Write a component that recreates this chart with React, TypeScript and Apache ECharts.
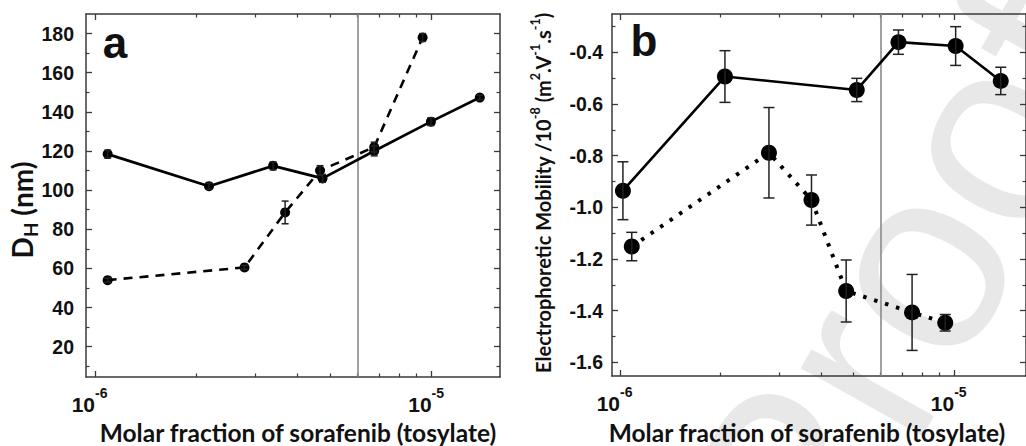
import React, { useEffect, useRef } from 'react';
import * as echarts from 'echarts';

// ---------- data ----------
const xMajorTicks = [1e-6, 1e-5];
const xMinorTicks = [2e-6, 3e-6, 4e-6, 5e-6, 6e-6, 7e-6, 8e-6, 9e-6];
const cmcLine = [6e-6];

const xRangeA = [0.94e-6, 1.596e-5];
const xRangeB = [0.946e-6, 1.64e-5];

const yRangeA = [4.5, 190];
const yMajorA = [20, 40, 60, 80, 100, 120, 140, 160, 180];
const yMinorA = [10, 30, 50, 70, 90, 110, 130, 150, 170];

const yRangeB = [-1.653, -0.252];
const yMajorB = [-1.6, -1.4, -1.2, -1.0, -0.8, -0.6, -0.4];
const yMinorB = [-1.5, -1.3, -1.1, -0.9, -0.7, -0.5, -0.3];

// panel a : hydrodynamic diameter (nm)
const solidA_x = [1.09e-6, 2.18e-6, 3.38e-6, 4.74e-6, 6.75e-6, 9.95e-6, 1.39e-5];
const solidA_y = [118.4, 102, 112.4, 106, 120, 135, 147.3];
const solidA_err = [2, 1.5, 2, 2, 2.5, 2, 1.2];

const dashA_x = [1.09e-6, 2.78e-6, 3.67e-6, 4.66e-6, 6.75e-6, 9.4e-6];
const dashA_y = [54, 60.5, 88.6, 110, 122, 178];
const dashA_err = [1, 1, 5.8, 2.5, 2.5, 2];

// panel b : electrophoretic mobility
const solidB_x = [1.02e-6, 2.06e-6, 5.11e-6, 6.81e-6, 1.01e-5, 1.378e-5];
const solidB_y = [-0.936, -0.494, -0.546, -0.361, -0.376, -0.511];
const solidB_err = [0.112, 0.1, 0.045, 0.047, 0.075, 0.053];

const dotB_x = [1.084e-6, 2.79e-6, 3.74e-6, 4.75e-6, 7.48e-6, 9.4e-6];
const dotB_y = [-1.152, -0.789, -0.972, -1.324, -1.407, -1.447];
const dotB_err = [0.055, 0.175, 0.097, 0.12, 0.147, 0.032];

// watermark letters
const watermarkLetters = ['P', 'r', 'o', 'o', 'f'];

// ---------- styling ----------
const FRAME = '#3a3a3a';
const TICK_FONT = 'Liberation Sans';
const TITLE_FONT = 'Lato';
const L = (v: number) => Math.log10(v);

function xAxes(grid: number, range: number[]) {
  const base: any = {
    type: 'value',
    gridIndex: grid,
    min: L(range[0]),
    max: L(range[1]),
    splitLine: { show: false },
    axisLabel: { show: false },
    axisTick: { show: false },
    axisLine: { show: false, onZero: false },
  };
  const line = { show: true, onZero: false, lineStyle: { color: FRAME, width: 1.5 } };
  const major = { show: true, inside: true, length: 6, customValues: xMajorTicks.map(L), lineStyle: { color: FRAME, width: 1.3 } };
  const minor = { show: true, inside: true, length: 3.5, customValues: xMinorTicks.map(L), lineStyle: { color: FRAME, width: 1.2 } };
  return [
    {
      ...base,
      position: 'bottom',
      axisLine: line,
      axisTick: major,
      axisLabel: {
        show: true,
        customValues: xMajorTicks.map(L),
        margin: 9,
        padding: [0, 11, 0, 0],
        fontFamily: TICK_FONT,
        fontWeight: 'bold',
        fontSize: 21,
        color: '#111',
        formatter: (v: number) => `{b|10}{s|${Math.round(v)}}`,
        rich: {
          b: { fontFamily: TICK_FONT, fontWeight: 'bold', fontSize: 21, color: '#111', lineHeight: 36, verticalAlign: 'middle' },
          s: { fontFamily: TICK_FONT, fontWeight: 'bold', fontSize: 14, color: '#111', lineHeight: 12, verticalAlign: 'top' },
        },
      },
    },
    { ...base, position: 'bottom', axisTick: minor },
    { ...base, position: 'top', axisLine: line, axisTick: major },
    { ...base, position: 'top', axisTick: minor },
  ];
}

function yAxes(grid: number, range: number[], majors: number[], minors: number[], fmt: (v: number) => string, margin: number) {
  const base: any = {
    type: 'value',
    gridIndex: grid,
    min: range[0],
    max: range[1],
    splitLine: { show: false },
    axisLabel: { show: false },
    axisTick: { show: false },
    axisLine: { show: false, onZero: false },
  };
  const line = { show: true, onZero: false, lineStyle: { color: FRAME, width: 1.5 } };
  const major = { show: true, inside: true, length: 6, customValues: majors, lineStyle: { color: FRAME, width: 1.3 } };
  const minor = { show: true, inside: true, length: 3.5, customValues: minors, lineStyle: { color: FRAME, width: 1.2 } };
  return [
    {
      ...base,
      position: 'left',
      axisLine: line,
      axisTick: major,
      axisLabel: {
        show: true,
        customValues: majors,
        margin,
        formatter: fmt,
        fontFamily: TICK_FONT,
        fontWeight: 'bold',
        fontSize: 19.5,
        color: '#111',
      },
    },
    { ...base, position: 'left', axisTick: minor },
    { ...base, position: 'right', axisLine: line, axisTick: major },
    { ...base, position: 'right', axisTick: minor },
  ];
}

function pts(xs: number[], ys: number[]) {
  return xs.map((x, i) => [L(x), ys[i]]);
}
function errPts(xs: number[], ys: number[], es: number[]) {
  return xs.map((x, i) => [L(x), ys[i], es[i]]);
}

function lineSeries(grid: number, xs: number[], ys: number[], dash: any, width: number, size: number, extra: any = {}) {
  return {
    type: 'line',
    xAxisIndex: grid * 4,
    yAxisIndex: grid * 4,
    data: pts(xs, ys),
    symbol: 'circle',
    symbolSize: size,
    showSymbol: true,
    itemStyle: { color: '#000' },
    lineStyle: { color: '#000', width, type: dash, cap: 'butt' },
    z: 3,
    ...extra,
  };
}

function errSeries(grid: number, xs: number[], ys: number[], es: number[], capW: number) {
  return {
    type: 'custom',
    xAxisIndex: grid * 4,
    yAxisIndex: grid * 4,
    data: errPts(xs, ys, es),
    encode: { x: 0, y: 1 },
    z: 4,
    renderItem: (params: any, api: any) => {
      const x = api.value(0);
      const y = api.value(1);
      const e = api.value(2);
      const top = api.coord([x, y + e]);
      const bot = api.coord([x, y - e]);
      const hw = capW / 2;
      const st = { stroke: '#222', lineWidth: 1.5 };
      return {
        type: 'group',
        children: [
          { type: 'line', shape: { x1: top[0], y1: top[1], x2: bot[0], y2: bot[1] }, style: st },
          { type: 'line', shape: { x1: top[0] - hw, y1: top[1], x2: top[0] + hw, y2: top[1] }, style: st },
          { type: 'line', shape: { x1: bot[0] - hw, y1: bot[1], x2: bot[0] + hw, y2: bot[1] }, style: st },
        ],
      };
    },
  };
}

const cmcMark = {
  silent: true,
  symbol: 'none',
  label: { show: false },
  lineStyle: { color: '#8a8a8a', width: 1.6, type: 'solid' },
  data: cmcLine.map((v) => ({ xAxis: L(v) })),
  z: 1,
};

function txt(x: number, y: number, text: string, font: any, rotation = 0, rich?: any, fill = '#111', z = 10) {
  return {
    type: 'text',
    x,
    y,
    rotation,
    silent: true,
    style: {
      text,
      ...font,
      fill,
      align: 'center',
      verticalAlign: 'middle',
      textAlign: 'center',
      textVerticalAlign: 'middle',
      rich,
    },
    z,
  };
}

// watermark: letters laid along a rotated baseline
function watermark() {
  const fs = 264;
  const ang = (60.6 * Math.PI) / 180;
  const ux = Math.cos(ang);
  const uy = -Math.sin(ang);
  const advances = [0.667, 0.333, 0.556, 0.556, 0.278];
  const ox = 913;
  const oy = 266.8;
  let acc = 0;
  const centers = advances.map((a) => {
    const c = acc + a / 2;
    acc += a;
    return c;
  });
  const ref = centers[2];
  return watermarkLetters.map((ch, i) => {
    const d = (centers[i] - ref) * fs;
    return txt(ox + d * ux, oy + d * uy, ch, { fontFamily: 'Liberation Sans', fontSize: fs }, ang, undefined, '#e8e8e8', -5);
  });
}

function buildOption(): any {
  const titleFont = { fontFamily: TITLE_FONT, fontWeight: 'bold', fontSize: 24.5 };
  const yTitleRichA = {
    m: { fontFamily: TITLE_FONT, fontWeight: 'bold', fontSize: 28, color: '#111', lineHeight: 36, verticalAlign: 'middle' },
    sub: { fontFamily: TITLE_FONT, fontWeight: 'bold', fontSize: 19, color: '#111', lineHeight: 19, verticalAlign: 'bottom' },
  };
  const yTitleRichB = {
    m: { fontFamily: TITLE_FONT, fontWeight: 'bold', fontSize: 20, color: '#111', lineHeight: 28, verticalAlign: 'middle' },
    sup: { fontFamily: TITLE_FONT, fontWeight: 'bold', fontSize: 12.5, color: '#111', lineHeight: 12, verticalAlign: 'top' },
  };
  return {
    animation: false,
    backgroundColor: '#fff',
    grid: [
      { left: 86, top: 14, width: 414, height: 363 },
      { left: 612, top: 14, width: 415, height: 362 },
    ],
    xAxis: [...xAxes(0, xRangeA), ...xAxes(1, xRangeB)],
    yAxis: [
      ...yAxes(0, yRangeA, yMajorA, yMinorA, (v: number) => String(Math.round(v)), 12),
      ...yAxes(1, yRangeB, yMajorB, yMinorB, (v: number) => v.toFixed(1), 9),
    ],
    graphic: [
      ...watermark(),
      txt(115, 42, 'a', { fontFamily: TICK_FONT, fontWeight: 'bold', fontSize: 44 }),
      txt(644, 40, 'b', { fontFamily: TICK_FONT, fontWeight: 'bold', fontSize: 44 }),
      txt(298, 432, 'Molar fraction of sorafenib (tosylate)', titleFont),
      txt(807, 432, 'Molar fraction of sorafenib (tosylate)', titleFont),
      txt(22, 210, '{m|D}{sub|H}{m| (nm)}', {}, Math.PI / 2, yTitleRichA),
      txt(
        543,
        193,
        '{m|Electrophoretic Mobility /10}{sup|-8}{m| (m}{sup|2}{m|.V}{sup|-1}{m|.s}{sup|-1}{m|)}',
        {},
        Math.PI / 2,
        yTitleRichB
      ),
    ],
    series: [
      lineSeries(0, solidA_x, solidA_y, 'solid', 2.7, 10, { markLine: cmcMark }),
      lineSeries(0, dashA_x, dashA_y, [9, 7], 2.6, 10),
      errSeries(0, solidA_x, solidA_y, solidA_err, 7),
      errSeries(0, dashA_x, dashA_y, dashA_err, 7),
      lineSeries(1, solidB_x, solidB_y, 'solid', 2.6, 16, { markLine: cmcMark }),
      lineSeries(1, dotB_x, dotB_y, [3.5, 8], 4, 16),
      errSeries(1, solidB_x, solidB_y, solidB_err, 11),
      errSeries(1, dotB_x, dotB_y, dotB_err, 11),
    ],
  };
}

export default function App() {
  const ref = useRef<HTMLDivElement>(null);
  useEffect(() => {
    const chart = echarts.init(ref.current!, null, { renderer: 'svg' });
    chart.setOption(buildOption());
    return () => chart.dispose();
  }, []);
  return (
    <div
      ref={ref}
      style={{ position: 'absolute', left: 0, top: 0, width: 1026, height: 446, background: '#fff' }}
    />
  );
}
